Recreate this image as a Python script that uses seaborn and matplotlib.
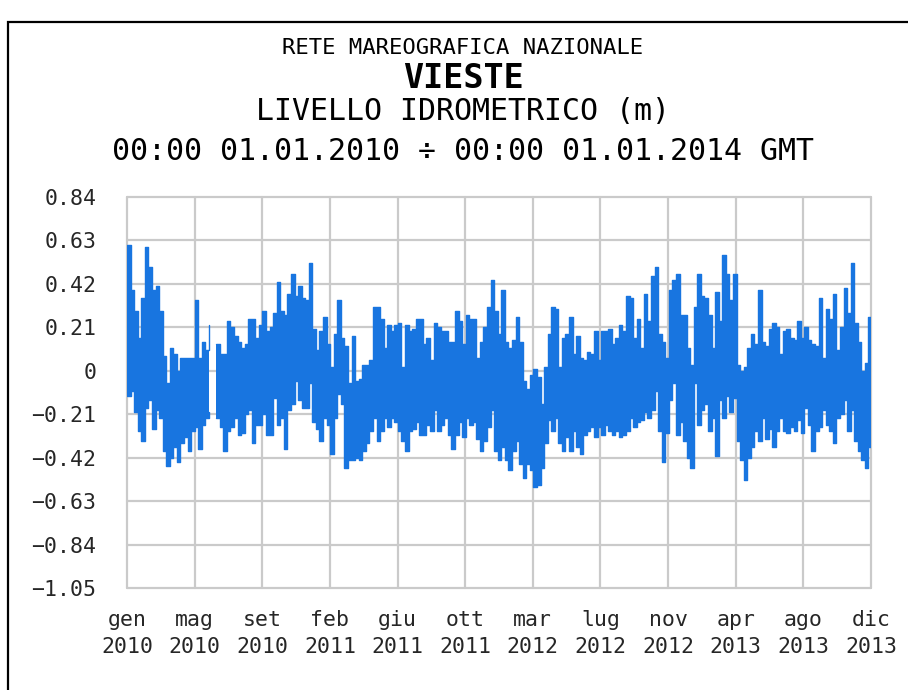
import numpy as np
import pandas as pd
import matplotlib
matplotlib.use("Agg")
import matplotlib.pyplot as plt
import seaborn as sns
from matplotlib.patches import Rectangle

# Weekly extremes of the hourly sea level at Vieste (m), from 1 Jan 2010.
START = pd.Timestamp("2010-01-01 00:00")
END = pd.Timestamp("2014-01-01 00:00")

WEEK_HIGH = [
    0.61, 0.39, 0.29, 0.16, 0.35, 0.60, 0.50, 0.39, 0.41, 0.29,
    0.07, -0.06, 0.11, 0.08, 0.00, 0.06, 0.06, 0.06, 0.06, 0.34,
    0.06, 0.14, 0.10, 0.22, np.nan, 0.13, 0.08, 0.08, 0.24, 0.21,
    0.17, 0.14, 0.11, 0.13, 0.25, 0.25, 0.16, 0.22, 0.29, 0.19,
    0.21, 0.28, 0.43, 0.29, 0.27, 0.37, 0.47, 0.36, 0.41, 0.35,
    0.34, 0.52, 0.20, 0.10, 0.19, 0.26, 0.13, 0.02, 0.18, 0.34,
    0.16, 0.12, -0.06, 0.17, -0.05, -0.04, 0.03, 0.03, 0.05, 0.31,
    0.31, 0.25, 0.11, 0.22, 0.19, 0.22, 0.23, 0.02, 0.22, 0.19,
    0.20, 0.25, 0.25, 0.13, 0.16, 0.05, 0.23, 0.21, 0.19, 0.19,
    0.14, 0.14, 0.29, 0.24, 0.13, 0.27, 0.25, 0.25, 0.06, 0.14,
    0.21, 0.31, 0.44, 0.29, 0.18, 0.39, 0.14, 0.11, 0.15, 0.26,
    0.14, -0.05, -0.09, -0.02, 0.01, -0.03, -0.16, 0.02, 0.18, 0.31,
    0.30, 0.02, 0.16, 0.18, 0.26, 0.08, 0.17, 0.06, 0.05, 0.09,
    0.08, 0.19, 0.05, 0.19, 0.19, 0.20, 0.13, 0.16, 0.22, 0.19,
    0.36, 0.35, 0.16, 0.25, 0.11, 0.37, 0.24, 0.46, 0.50, 0.18,
    0.14, 0.06, 0.39, 0.44, 0.47, 0.27, 0.27, 0.11, 0.03, 0.31,
    0.47, 0.36, 0.35, 0.27, 0.11, 0.38, 0.24, 0.56, 0.47, 0.34,
    0.47, 0.03, 0.00, 0.02, 0.11, 0.18, 0.13, 0.39, 0.14, 0.12,
    0.20, 0.23, 0.21, 0.08, 0.19, 0.20, 0.16, 0.15, 0.24, 0.16,
    0.21, 0.15, 0.13, 0.12, 0.35, 0.06, 0.30, 0.25, 0.37, 0.10,
    0.21, 0.40, 0.28, 0.52, 0.23, 0.14, 0.00, 0.04, 0.26,
]

WEEK_LOW = [
    -0.12, -0.10, -0.20, -0.29, -0.34, -0.18, -0.14, -0.28, -0.19, -0.23,
    -0.39, -0.46, -0.42, -0.37, -0.44, -0.35, -0.32, -0.39, -0.29, -0.27,
    -0.38, -0.26, -0.23, -0.20, np.nan, -0.23, -0.27, -0.39, -0.29, -0.27,
    -0.23, -0.31, -0.30, -0.21, -0.19, -0.35, -0.26, -0.26, -0.21, -0.31,
    -0.31, -0.13, -0.26, -0.23, -0.38, -0.19, -0.16, -0.05, -0.14, -0.18,
    -0.18, -0.06, -0.25, -0.28, -0.34, -0.23, -0.26, -0.40, -0.23, -0.11,
    -0.16, -0.47, -0.43, -0.43, -0.42, -0.43, -0.39, -0.35, -0.29, -0.23,
    -0.34, -0.29, -0.23, -0.27, -0.23, -0.25, -0.29, -0.34, -0.39, -0.29,
    -0.28, -0.25, -0.31, -0.31, -0.26, -0.29, -0.19, -0.29, -0.26, -0.23,
    -0.31, -0.38, -0.31, -0.25, -0.32, -0.23, -0.26, -0.25, -0.33, -0.39,
    -0.34, -0.27, -0.19, -0.39, -0.43, -0.37, -0.43, -0.48, -0.39, -0.34,
    -0.45, -0.52, -0.45, -0.48, -0.56, -0.55, -0.47, -0.35, -0.24, -0.29,
    -0.23, -0.35, -0.39, -0.32, -0.39, -0.29, -0.37, -0.40, -0.31, -0.29,
    -0.27, -0.32, -0.27, -0.31, -0.26, -0.29, -0.31, -0.29, -0.32, -0.31,
    -0.29, -0.23, -0.27, -0.25, -0.24, -0.20, -0.23, -0.19, -0.10, -0.29,
    -0.44, -0.30, -0.14, -0.06, -0.31, -0.25, -0.34, -0.42, -0.47, -0.06,
    -0.26, -0.19, -0.16, -0.29, -0.23, -0.41, -0.14, -0.23, -0.12, -0.20,
    -0.13, -0.34, -0.43, -0.53, -0.42, -0.37, -0.29, -0.34, -0.23, -0.33,
    -0.28, -0.37, -0.29, -0.23, -0.29, -0.30, -0.27, -0.29, -0.24, -0.30,
    -0.18, -0.26, -0.39, -0.29, -0.27, -0.19, -0.26, -0.29, -0.35, -0.23,
    -0.21, -0.14, -0.29, -0.19, -0.34, -0.39, -0.43, -0.47, -0.37,
]

LAST_LEVEL = 0.12

Y_TICKS = [0.84, 0.63, 0.42, 0.21, 0.0, -0.21, -0.42, -0.63, -0.84, -1.05]
Y_TICK_LABELS = ["0.84", "0.63", "0.42", "0.21", "0",
                 "\u22120.21", "\u22120.42", "\u22120.63", "\u22120.84", "\u22121.05"]
X_TICK_LABELS = ["gen\n2010", "mag\n2010", "set\n2010", "feb\n2011",
                 "giu\n2011", "ott\n2011", "mar\n2012", "lug\n2012",
                 "nov\n2012", "apr\n2013", "ago\n2013", "dic\n2013"]

TITLE_LINES = [
    ("RETE MAREOGRAFICA NAZIONALE", 16, "normal", 48),
    ("VIESTE", 24, "bold", 78),
    ("LIVELLO IDROMETRICO (m)", 21.5, "normal", 112),
    ("00:00 01.01.2010 \u00f7 00:00 01.01.2014 GMT", 21.5, "normal", 152),
]

BLUE = "#1875E0"
GRID = "#CACACA"

# One row per week: its start time and the high/low reached within it.
times = [START + pd.Timedelta(days=7 * w) for w in range(len(WEEK_HIGH))]
weekly = pd.DataFrame({"time": times, "high": WEEK_HIGH, "low": WEEK_LOW})
# Close the record at its final hour.
weekly = pd.concat([weekly, pd.DataFrame({"time": [END],
                                          "high": [LAST_LEVEL],
                                          "low": [LAST_LEVEL]})],
                   ignore_index=True)
weekly["segment"] = weekly["high"].isna().cumsum()
trace = weekly.dropna()

sns.set_style("white")
plt.rcParams["font.family"] = ["DejaVu Sans Mono", "DejaVu Sans"]

W, H = 908, 690
fig = plt.figure(figsize=(W / 100, H / 100), dpi=100)
fig.patch.set_facecolor("white")

ax = fig.add_axes([127 / W, 1 - 588 / H, (871 - 127) / W, (588 - 197) / H])

# Solid band between the weekly low and high
ax.fill_between(weekly["time"], weekly["low"], weekly["high"], step="post",
                color=BLUE, linewidth=0)
# Stepped outline of the weekly extremes
for col in ("high", "low"):
    sns.lineplot(data=trace, x="time", y=col, units="segment", estimator=None,
                 sort=False, color=BLUE, linewidth=1.0, ax=ax, legend=False,
                 drawstyle="steps-post")

ax.set_xlim(START, END)
ax.set_ylim(-1.05, 0.84)

n = len(X_TICK_LABELS)
x_ticks = [START + (END - START) * i / (n - 1) for i in range(n)]
ax.set_xticks(x_ticks)
ax.set_xticklabels(X_TICK_LABELS, fontsize=15.5, linespacing=1.45)
ax.set_yticks(Y_TICKS)
ax.set_yticklabels(Y_TICK_LABELS, fontsize=15.5)
ax.set_xlabel("")
ax.set_ylabel("")

ax.grid(True, color=GRID, linewidth=1.6)
ax.set_axisbelow(True)
for gl in ax.get_xgridlines() + ax.get_ygridlines():
    gl.set_clip_on(False)
for s in ax.spines.values():
    s.set_visible(False)
ax.tick_params(axis="y", length=10.5, width=1.6, color=GRID, pad=11.5)
ax.tick_params(axis="x", length=9, width=1.6, color=GRID, pad=7)

for text, size, weight, ypx in TITLE_LINES:
    fig.text(463 / W, 1 - ypx / H, text, ha="center", va="center",
             fontsize=size, fontweight=weight, color="black")

# Frame around the figure (left and top edges visible)
fig.patches.append(Rectangle((8 / W, -0.1), 1.2, 1.1 - 22 / H,
                             transform=fig.transFigure, fill=False,
                             edgecolor="black", linewidth=1.6))

fig.savefig("out.png", dpi=100, facecolor="white")
